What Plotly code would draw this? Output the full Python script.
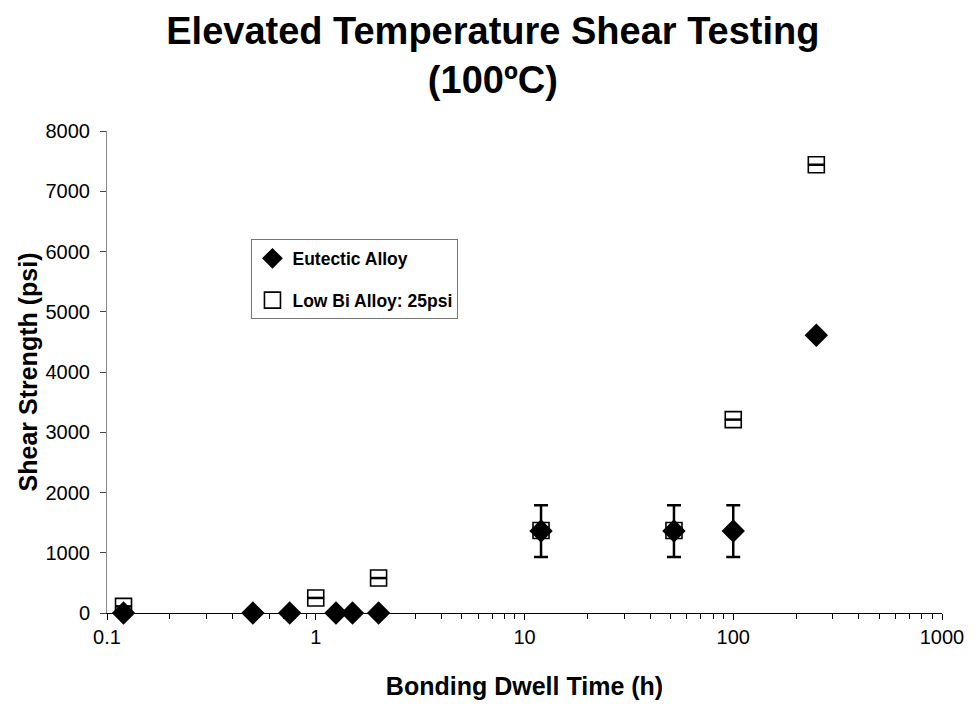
import plotly.graph_objects as go

# Bonding dwell time (h) and shear strength (psi) at 100 °C
eutectic_time = [0.12, 0.5, 0.75, 1.25, 1.5, 2, 12, 52, 100, 250]
eutectic_strength = [0, 0, 0, 0, 0, 0, 1360, 1360, 1360, 4610]
eutectic_err = [0, 0, 0, 0, 0, 0, 430, 430, 430, 0]

lowbi_time = [0.12, 1, 2, 12, 52, 100, 250]
lowbi_strength = [110, 250, 580, 1370, 1370, 3210, 7440]

x_ticks = [0.1, 1, 10, 100, 1000]
x_tick_labels = ["0.1", "1", "10", "100", "1000"]
y_ticks = [0, 1000, 2000, 3000, 4000, 5000, 6000, 7000, 8000]

FONT = "Liberation Sans, Arial, sans-serif"

fig = go.Figure()

fig.add_trace(go.Scatter(
    x=eutectic_time, y=eutectic_strength, mode="markers",
    name="<b>Eutectic Alloy</b>", legendgroup="a",
    marker=dict(symbol="diamond", size=18, color="black"),
    error_y=dict(type="data", array=eutectic_err, visible=True,
                 color="black", thickness=2.5, width=7),
    cliponaxis=False,
))

fig.add_trace(go.Scatter(
    x=lowbi_time, y=lowbi_strength, mode="markers",
    name="<b>Low Bi Alloy: 25psi</b>", legendgroup="b",
    marker=dict(symbol="square", size=16, color="rgba(255,255,255,0)",
                line=dict(color="black", width=1.6)),
    cliponaxis=False,
))

# small bar inside each open square
fig.add_trace(go.Scatter(
    x=lowbi_time, y=lowbi_strength, mode="markers", showlegend=False,
    hoverinfo="skip",
    marker=dict(symbol="line-ew", size=12, line=dict(color="black", width=2.5)),
    cliponaxis=False,
))

fig.update_layout(
    width=976, height=708,
    paper_bgcolor="white", plot_bgcolor="white",
    margin=dict(l=107, r=29, t=131, b=94),
    font=dict(family=FONT, color="black", size=20),
    title=dict(
        text="<b>Elevated Temperature Shear Testing<br>(100ºC)</b>",
        x=0.505, xanchor="center", yref="container", y=0.938, yanchor="top",
        font=dict(family=FONT, size=38, color="black"),
    ),
    legend=dict(
        x=0.173, y=0.775, xanchor="left", yanchor="top",
        bgcolor="white", bordercolor="#777", borderwidth=1,
        font=dict(family=FONT, size=17.5, color="black"),
        itemwidth=30, tracegroupgap=16,
    ),
    showlegend=True,
)

fig.update_xaxes(
    type="log", range=[-1, 3],
    tickvals=x_ticks, ticktext=x_tick_labels,
    showgrid=False, zeroline=False,
    showline=True, linecolor="black", linewidth=1,
    ticks="outside", ticklen=6, tickcolor="black",
    minor=dict(dtick="D1", ticks="outside", ticklen=5, tickcolor="black", showgrid=False),
    tickfont=dict(size=20),
    title=dict(text="<b>Bonding Dwell Time (h)</b>", font=dict(size=25), standoff=30),
)

fig.update_yaxes(
    range=[0, 8000], tickvals=y_ticks,
    showgrid=False, zeroline=False,
    showline=True, linecolor="#888", linewidth=1,
    ticks="outside", ticklen=6, tickcolor="#444",
    ticklabelstandoff=6,
    tickfont=dict(size=20),
    title=dict(text="<b>Shear Strength (psi)</b>", font=dict(size=25), standoff=0),
)

fig.write_html("out.html")
